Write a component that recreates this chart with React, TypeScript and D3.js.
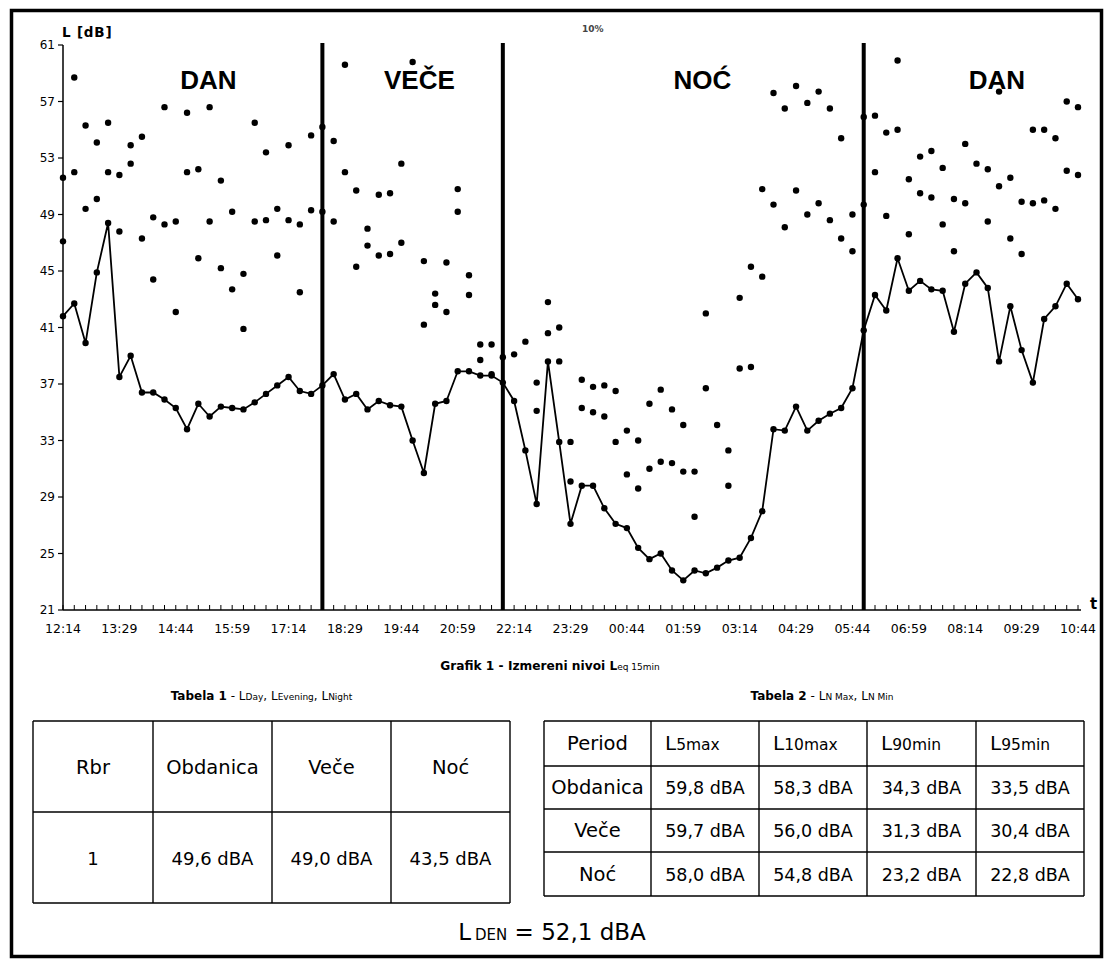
import React from 'react';
import * as d3 from 'd3';

// ---------- DATA ----------
const xTickLabels = ["12:14","13:29","14:44","15:59","17:14","18:29","19:44","20:59","22:14","23:29","00:44","01:59","03:14","04:29","05:44","06:59","08:14","09:29","10:44"];
const yTicks = [21, 25, 29, 33, 37, 41, 45, 49, 53, 57, 61];
const periodLabels = ["DAN", "VEČE", "NOĆ", "DAN"];
const periodLabelAt = [12.9, 31.6, 56.7, 82.8];
const periodBoundaries = [23, 39, 71];

// bottom connected series (Leq 15 min, lower levels)
const lineSeries = [
  41.8, 42.7, 39.9, 44.9, 48.4, 37.5, 39.0, 36.4, 36.4, 35.9,
  35.3, 33.8, 35.6, 34.7, 35.4, 35.3, 35.2, 35.7, 36.3, 36.9,
  37.5, 36.5, 36.3, 36.9, 37.7, 35.9, 36.3, 35.2, 35.8, 35.5,
  35.4, 33.0, 30.7, 35.6, 35.8, 37.9, 37.9, 37.6, 37.6, 37.1,
  35.8, 32.3, 28.5, 38.6, 32.9, 27.1, 29.8, 29.8, 28.2, 27.1,
  26.8, 25.4, 24.6, 25.0, 23.8, 23.1, 23.8, 23.6, 24.0, 24.5,
  24.7, 26.1, 28.0, 33.8, 33.7, 35.4, 33.7, 34.4, 34.9, 35.3,
  36.7, 40.8, 43.3, 42.2, 45.9, 43.6, 44.3, 43.7, 43.6, 40.7,
  44.1, 44.9, 43.8, 38.6, 42.5, 39.4, 37.1, 41.6, 42.5, 44.1,
  43.0
];

// upper scatter series
const upperSeries: (number | null)[] = [
  51.6, 58.7, 55.3, 54.1, 55.5, 51.8, 53.9, 54.5, 48.8, 56.6,
  48.5, 56.2, 52.2, 56.6, 51.4, 49.2, 44.8, 55.5, 53.4, 49.4,
  53.9, 48.3, 54.6, 55.2, 54.2, 59.6, 50.7, 48.0, 50.4, 50.5,
  52.6, 59.8, 45.7, 43.4, 45.6, 50.8, 44.7, 39.8, 39.8, 38.9,
  39.1, 40.0, 37.1, 42.8, 41.0, 32.9, 37.3, 36.8, 36.9, 36.5,
  33.7, 33.0, 35.6, 36.6, 35.2, 34.1, 30.8, 42.0, 34.1, 32.3,
  43.1, 45.3, 50.8, 57.6, 56.5, 58.1, 56.9, 57.7, 56.5, 54.4,
  49.0, 55.9, 56.0, 54.8, 59.9, 51.5, 53.1, 53.5, 52.3, 50.1,
  54.0, 52.6, 52.2, 57.7, 51.6, 49.9, 55.0, 55.0, 54.4, 57.0,
  56.6
];

// middle scatter series
const middleSeries: (number | null)[] = [
  47.1, 52.0, 49.4, 50.1, 52.0, 47.8, 52.6, 47.3, 44.4, 48.3,
  42.1, 52.0, 45.9, 48.5, 45.2, 43.7, 40.9, 48.5, 48.6, 46.1,
  48.6, 43.5, 49.3, 49.2, 48.5, 52.0, 45.3, 46.8, 46.1, 46.2,
  47.0, null, 41.2, 42.6, 42.1, 49.2, 43.3, 38.7, 37.7, null,
  null, null, 35.1, 40.6, 38.6, 30.1, 35.3, 35.0, 34.7, 32.9,
  30.6, 29.6, 31.0, 31.5, 31.4, 30.8, 27.6, 36.7, null, 29.8,
  38.1, 38.2, 44.6, 49.7, 48.1, 50.7, 49.0, 49.8, 48.6, 47.3,
  46.4, 49.7, 52.0, 48.9, 55.0, 47.6, 50.5, 50.2, 48.3, 46.4,
  49.8, null, 48.5, 51.0, 47.3, 46.2, 49.8, 50.0, 49.4, 52.1,
  51.8
];

// Table 1
const table1Headers = ["Rbr", "Obdanica", "Veče", "Noć"];
const table1Values = ["1", "49,6 dBA", "49,0 dBA", "43,5 dBA"];
// Table 2
const table2HeaderMain = ["Period", "L", "L", "L", "L"];
const table2HeaderSub = ["", "5max", "10max", "90min", "95min"];
const table2Periods = ["Obdanica", "Veče", "Noć"];
const table2L5max = ["59,8 dBA", "59,7 dBA", "58,0 dBA"];
const table2L10max = ["58,3 dBA", "56,0 dBA", "54,8 dBA"];
const table2L90min = ["34,3 dBA", "31,3 dBA", "23,2 dBA"];
const table2L95min = ["33,5 dBA", "30,4 dBA", "22,8 dBA"];
const lden = "52,1 dBA";

// ---------- LAYOUT ----------
const W = 1107, H = 963;
const PX0 = 63, PX1 = 1078, PY0 = 45, PY1 = 610;
const SANS = "'DejaVu Sans', Verdana, sans-serif";
const ARIAL = "'Liberation Sans', Arial, sans-serif";

export default function App() {
  const n = lineSeries.length;
  const x = d3.scaleLinear().domain([0, n - 1]).range([PX0, PX1]);
  const y = d3.scaleLinear().domain([21, 61]).range([PY1, PY0]);
  const lineGen = d3.line<number>().x((_, i) => x(i)).y(d => y(d));
  const cats = d3.range(n);

  const t1Cols = [33, 153, 272, 391, 510];
  const t1Rows = [721, 812, 903];
  const t2Cols = [544, 651, 759, 867, 976, 1084];
  const t2Rows = [721, 766, 809, 852, 896];
  const t2Body = [table2Periods, table2L5max, table2L10max, table2L90min, table2L95min];
  const isNum = (s: string) => /\d/.test(s);

  return (
    <svg width={W} height={H} style={{ position: 'absolute', left: 0, top: 0, background: '#fff' }}>
      <rect x={0} y={0} width={W} height={H} fill="#fff" />
      {/* outer frame */}
      <rect x={11.5} y={10.5} width={1090} height={946} fill="none" stroke="#000" strokeWidth={3.5} />

      {/* faint title remnant */}
      <text x={582} y={32} fontFamily={SANS} fontSize={9} fontWeight="bold" fill="#444">10%</text>

      {/* y axis */}
      <line x1={PX0} y1={PY0} x2={PX0} y2={PY1} stroke="#000" strokeWidth={1.5} />
      {yTicks.map(t => (
        <g key={t}>
          <line x1={PX0 - 5} x2={PX0} y1={y(t)} y2={y(t)} stroke="#000" strokeWidth={1.2} />
          <text x={55} y={y(t) + 4} textAnchor="end" fontFamily={SANS} fontSize={12} fill="#000">{t}</text>
        </g>
      ))}
      <text x={62} y={37} fontFamily={SANS} fontWeight="bold" fontSize={13.5} letterSpacing={0.8} fill="#000">L [dB]</text>

      {/* x axis */}
      <line x1={PX0} y1={PY1} x2={PX1 + 3} y2={PY1} stroke="#000" strokeWidth={1.5} />
      {cats.map(i => (
        <line key={i} x1={x(i)} x2={x(i)} y1={PY1} y2={PY1 - 5} stroke="#000" strokeWidth={1} />
      ))}
      {xTickLabels.map((lab, k) => (
        <text key={k} x={x(k * 5)} y={633} textAnchor="middle" fontFamily={SANS} fontSize={12.5} fill="#000">{lab}</text>
      ))}
      <text x={1090} y={609} fontFamily={SANS} fontWeight="bold" fontSize={15} fill="#000">t</text>

      {/* scatter series */}
      {upperSeries.map((v, i) => v == null ? null : (
        <circle key={'u' + i} cx={x(i)} cy={y(v)} r={3.2} fill="#000" />
      ))}
      {middleSeries.map((v, i) => v == null ? null : (
        <circle key={'m' + i} cx={x(i)} cy={y(v)} r={3.2} fill="#000" />
      ))}

      {/* line series */}
      <path d={lineGen(lineSeries) || ''} fill="none" stroke="#000" strokeWidth={1.8} />
      {lineSeries.map((v, i) => (
        <circle key={'l' + i} cx={x(i)} cy={y(v)} r={3.2} fill="#000" />
      ))}

      {/* period boundaries */}
      {periodBoundaries.map((b, k) => (
        <line key={k} x1={x(b)} x2={x(b)} y1={43} y2={PY1} stroke="#000" strokeWidth={4} />
      ))}
      {periodLabels.map((lab, k) => (
        <text key={k} x={x(periodLabelAt[k])} y={89} textAnchor="middle" fontFamily={ARIAL} fontWeight="bold" fontSize={26} fill="#000">{lab}</text>
      ))}

      {/* chart caption */}
      <text x={550} y={670} textAnchor="middle" fontFamily={SANS} fontWeight="bold" fontSize={12.2} fill="#000">
        Grafik 1 - Izmereni nivoi L<tspan fontSize={9} fontWeight="normal">eq 15min</tspan>
      </text>

      {/* table captions */}
      <text x={(t1Cols[0] + t1Cols[4]) / 2 - 10} y={700} textAnchor="middle" fontFamily={SANS} fontSize={12} fill="#000">
        <tspan fontWeight="bold">Tabela 1</tspan> - L<tspan fontSize={9}>Day</tspan>, L<tspan fontSize={9}>Evening</tspan>, L<tspan fontSize={9}>Night</tspan>
      </text>
      <text x={(t2Cols[0] + t2Cols[5]) / 2 + 8} y={700} textAnchor="middle" fontFamily={SANS} fontSize={12} fill="#000">
        <tspan fontWeight="bold">Tabela 2</tspan> - L<tspan fontSize={9}>N Max</tspan>, L<tspan fontSize={9}>N Min</tspan>
      </text>

      {/* table 1 */}
      <g stroke="#000" strokeWidth={1.4}>
        {t1Cols.map((cx, k) => <line key={'c' + k} x1={cx} x2={cx} y1={t1Rows[0]} y2={t1Rows[2]} />)}
        {t1Rows.map((ry, k) => <line key={'r' + k} x1={t1Cols[0]} x2={t1Cols[4]} y1={ry} y2={ry} />)}
      </g>
      {table1Headers.map((h, k) => (
        <text key={'h' + k} x={(t1Cols[k] + t1Cols[k + 1]) / 2} y={(t1Rows[0] + t1Rows[1]) / 2 + 7} textAnchor="middle" fontFamily={SANS} fontSize={19.5} fill="#000">{h}</text>
      ))}
      {table1Values.map((h, k) => (
        <text key={'v' + k} x={(t1Cols[k] + t1Cols[k + 1]) / 2} y={(t1Rows[1] + t1Rows[2]) / 2 + 7} textAnchor="middle" fontFamily={SANS} fontSize={18} fill="#000">{h}</text>
      ))}

      {/* table 2 */}
      <g stroke="#000" strokeWidth={1.4}>
        {t2Cols.map((cx, k) => <line key={'c' + k} x1={cx} x2={cx} y1={t2Rows[0]} y2={t2Rows[4]} />)}
        {t2Rows.map((ry, k) => <line key={'r' + k} x1={t2Cols[0]} x2={t2Cols[5]} y1={ry} y2={ry} />)}
      </g>
      {table2HeaderMain.map((h, k) => (
        <text key={'h2' + k} x={k === 0 ? (t2Cols[0] + t2Cols[1]) / 2 : t2Cols[k] + 14} y={(t2Rows[0] + t2Rows[1]) / 2 + 6} textAnchor={k === 0 ? 'middle' : 'start'} fontFamily={SANS} fontSize={k === 0 ? 19.5 : 20} fill="#000">
          {h}<tspan fontSize={15.5}>{table2HeaderSub[k]}</tspan>
        </text>
      ))}
      {t2Body.map((col, c) => col.map((v, r) => (
        <text key={'b' + c + '-' + r} x={(t2Cols[c] + t2Cols[c + 1]) / 2} y={(t2Rows[r + 1] + t2Rows[r + 2]) / 2 + 6.5} textAnchor="middle" fontFamily={SANS} fontSize={isNum(v) ? 17.5 : 19.5} fill="#000">{v}</text>
      )))}

      {/* L DEN */}
      <text x={552} y={940} textAnchor="middle" fontFamily={SANS} fontSize={23} fill="#000">
        L<tspan fontSize={15} dx={4}>DEN</tspan> = {lden}
      </text>
    </svg>
  );
}
